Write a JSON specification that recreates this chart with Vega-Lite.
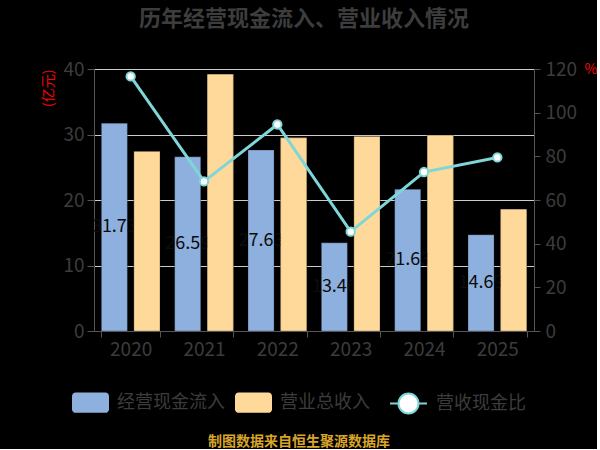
{
  "$schema": "https://vega.github.io/schema/vega-lite/v6.json",
  "background": "#000000",
  "padding": {"left": 40, "top": 8, "right": 0, "bottom": 0},
  "title": {
    "text": "历年经营现金流入、营业收入情况",
    "fontSize": 22,
    "fontWeight": "bold",
    "color": "#3d3d3d",
    "anchor": "middle",
    "dx": -15,
    "offset": 29
  },
  "datasets": {
    "bars": [
      {"year": "2020", "type": "经营现金流入", "value": 31.73},
      {"year": "2020", "type": "营业总收入", "value": 27.4},
      {"year": "2021", "type": "经营现金流入", "value": 26.59},
      {"year": "2021", "type": "营业总收入", "value": 39.2},
      {"year": "2022", "type": "经营现金流入", "value": 27.63},
      {"year": "2022", "type": "营业总收入", "value": 29.5},
      {"year": "2023", "type": "经营现金流入", "value": 13.46},
      {"year": "2023", "type": "营业总收入", "value": 29.7},
      {"year": "2024", "type": "经营现金流入", "value": 21.63},
      {"year": "2024", "type": "营业总收入", "value": 29.9},
      {"year": "2025", "type": "经营现金流入", "value": 14.69},
      {"year": "2025", "type": "营业总收入", "value": 18.6}
    ],
    "ratio": [
      {"year": "2020", "ratio": 116.6},
      {"year": "2021", "ratio": 68.5},
      {"year": "2022", "ratio": 94.6},
      {"year": "2023", "ratio": 45.5},
      {"year": "2024", "ratio": 72.8},
      {"year": "2025", "ratio": 79.5}
    ]
  },
  "vconcat": [
    {
      "width": 440,
      "height": 262,
      "title": {
        "text": "制图数据来自恒生聚源数据库",
        "orient": "bottom",
        "fontSize": 14,
        "fontWeight": "bold",
        "color": "#d9a52a",
        "anchor": "middle",
        "dx": -15,
        "offset": 17
      },
      "layer": [
        {
          "data": {"name": "bars"},
          "encoding": {
            "x": {
              "field": "year",
              "type": "nominal",
              "scale": {"paddingInner": 0.2, "paddingOuter": 0.1},
              "axis": {
                "title": null,
                "labelAngle": 0,
                "tickBand": "extent",
                "tickSize": 6,
                "labelPadding": 3,
                "labelFontSize": 19,
                "labelColor": "#3c3c3c",
                "domainColor": "#555555",
                "tickColor": "#555555",
                "zindex": 1
              }
            },
            "xOffset": {
              "field": "type",
              "scale": {"domain": ["经营现金流入", "营业总收入"], "paddingInner": 0.2, "paddingOuter": 0}
            },
            "y": {
              "field": "value",
              "type": "quantitative",
              "scale": {"domain": [0, 40]},
              "axis": {
                "values": [0, 10, 20, 30, 40],
                "title": "(亿元)",
                "titleColor": "#ff0000",
                "titleFontSize": 14,
                "titleFontWeight": "normal",
                "titleAngle": -90,
                "titleX": -46,
                "titleY": 0,
                "titleAlign": "right",
                "titleBaseline": "middle",
                "grid": true,
                "gridColor": "#cccccc",
                "domainColor": "#555555",
                "tickColor": "#555555",
                "tickSize": 7,
                "labelPadding": 3,
                "labelFontSize": 19,
                "labelColor": "#3c3c3c"
              }
            },
            "color": {
              "field": "type",
              "type": "nominal",
              "scale": {"domain": ["经营现金流入", "营业总收入"], "range": ["#8eb0de", "#ffd999"]},
              "legend": {
                "orient": "none",
                "legendX": -22,
                "legendY": 315,
                "title": null,
                "direction": "horizontal",
                "symbolType": "M-0.8,-0.55H0.8A0.2,0.2,0,0,1,1,-0.35V0.35A0.2,0.2,0,0,1,0.8,0.55H-0.8A0.2,0.2,0,0,1,-1,0.35V-0.35A0.2,0.2,0,0,1,-0.8,-0.55Z",
                "symbolSize": 1369,
                "symbolStrokeWidth": 0,
                "labelFontSize": 18,
                "labelColor": "#3c3c3c",
                "labelOffset": 8,
                "columnPadding": 10
              }
            }
          },
          "layer": [
            {
              "mark": {"type": "bar", "stroke": "#000000", "strokeOpacity": 0.25, "strokeWidth": 1}
            },
            {
              "transform": [{"calculate": "datum.value / 2", "as": "mid"}, {"filter": "datum.type == '经营现金流入'"}],
              "mark": {"type": "text", "fontSize": 18, "baseline": "middle"},
              "encoding": {
                "y": {"field": "mid", "type": "quantitative"},
                "text": {"field": "value", "type": "quantitative", "format": ".2f"},
                "color": {"value": "#0c0c0c"}
              }
            },
            {
              "transform": [{"filter": "datum.type == '营业总收入'"}],
              "mark": {"type": "bar", "stroke": "#000000", "strokeOpacity": 0.25, "strokeWidth": 1}
            }
          ]
        },
        {
          "data": {"name": "ratio"},
          "encoding": {
            "x": {"field": "year", "type": "nominal"},
            "y": {
              "field": "ratio",
              "type": "quantitative",
              "scale": {"domain": [0, 120]},
              "axis": {
                "orient": "right",
                "values": [0, 20, 40, 60, 80, 100, 120],
                "title": "%",
                "titleColor": "#ff0000",
                "titleFontSize": 14,
                "titleFontWeight": "normal",
                "titleAngle": 0,
                "titleX": 50,
                "titleY": 0,
                "titleAlign": "left",
                "titleBaseline": "middle",
                "grid": false,
                "domainColor": "#555555",
                "tickColor": "#555555",
                "tickSize": 6,
                "labelPadding": 5,
                "labelFontSize": 19,
                "labelColor": "#3c3c3c"
              }
            }
          },
          "layer": [
            {
              "mark": {"type": "line", "strokeWidth": 3},
              "encoding": {
                "stroke": {
                  "datum": "营收现金比",
                  "type": "nominal",
                  "scale": {"range": ["#7fd6d8"]},
                  "legend": {
                    "orient": "none",
                    "legendX": 295,
                    "legendY": 315,
                    "title": null,
                    "symbolType": "M-1,0H-0.54M0.54,0H1M0.54,0A0.54,0.54,0,1,1,-0.54,0A0.54,0.54,0,1,1,0.54,0Z",
                    "symbolSize": 1369,
                    "symbolFillColor": "#ffffff",
                    "symbolStrokeWidth": 2,
                    "labelFontSize": 18,
                    "labelColor": "#3c3c3c",
                    "labelOffset": 8
                  }
                }
              }
            },
            {
              "mark": {"type": "point", "filled": true, "fill": "#ffffff", "stroke": "#7fd6d8", "strokeWidth": 2, "size": 70, "opacity": 1}
            }
          ]
        }
      ],
      "resolve": {"scale": {"y": "independent"}}
    }
  ],
  "resolve": {"scale": {"color": "independent", "stroke": "independent"}},
  "config": {
    "font": "Noto Sans CJK SC",
    "view": {"stroke": null}
  }
}
